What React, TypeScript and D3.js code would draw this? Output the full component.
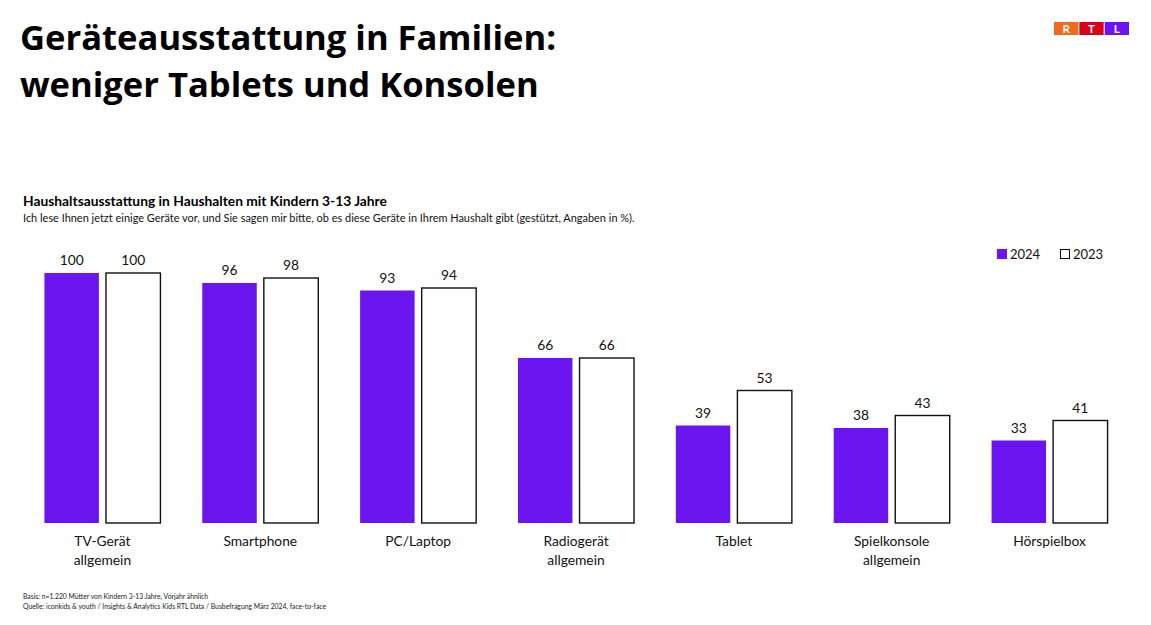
import React, { useEffect, useRef } from 'react';
import * as d3 from 'd3';

const categories = ['TV-Gerät allgemein', 'Smartphone', 'PC/Laptop', 'Radiogerät allgemein', 'Tablet', 'Spielkonsole allgemein', 'Hörspielbox'];
const categoryLines = [['TV-Gerät', 'allgemein'], ['Smartphone'], ['PC/Laptop'], ['Radiogerät', 'allgemein'], ['Tablet'], ['Spielkonsole', 'allgemein'], ['Hörspielbox']];
const seriesNames = ['2024', '2023'];
const values2024 = [100, 96, 93, 66, 39, 38, 33];
const values2023 = [100, 98, 94, 66, 53, 43, 41];

const titleLines = ['Geräteausstattung in Familien:', 'weniger Tablets und Konsolen'];
const subtitle = 'Haushaltsausstattung in Haushalten mit Kindern 3-13 Jahre';
const question = 'Ich lese Ihnen jetzt einige Geräte vor, und Sie sagen mir bitte, ob es diese Geräte in Ihrem Haushalt gibt (gestützt, Angaben in %).';
const notes = ['Basis: n=1.220 Mütter von Kindern 3-13 Jahre, Vorjahr ähnlich', 'Quelle: iconkids & youth / Insights & Analytics Kids RTL Data / Busbefragung März 2024, face-to-face'];

const logoLetters = ['R', 'T', 'L'];
const logoColors = ['#f26a1b', '#d9001b', '#6a14f0'];

const PURPLE = '#6a14f0';
const FONT = 'Lato, sans-serif';

const App: React.FC = () => {
    const chartRef = useRef<SVGSVGElement>(null);

    useEffect(() => {
        const svg = d3.select(chartRef.current);
        svg.selectAll('*').remove();

        svg.append('rect').attr('width', 1151).attr('height', 625).attr('fill', '#fff');

        // headline
        svg.append('g').selectAll('text').data(titleLines).enter().append('text')
            .attr('x', 20)
            .attr('y', (d, i) => 50 + i * 47)
            .attr('font-family', '"Open Sans", sans-serif')
            .attr('font-weight', 700)
            .attr('font-size', 34.6)
            .attr('fill', '#000')
            .text(d => d);

        svg.append('text').attr('x', 23).attr('y', 206)
            .attr('font-family', FONT).attr('font-weight', 700).attr('font-size', 13.8)
            .attr('fill', '#000').text(subtitle);
        svg.append('text').attr('x', 23).attr('y', 222)
            .attr('font-family', FONT).attr('font-size', 10.95)
            .attr('fill', '#111').text(question);

        // bars
        const x0 = d3.scaleBand().domain(categories).range([23.5, 1128.5]).paddingInner(0.265).paddingOuter(0.1325);
        const x1 = d3.scaleBand().domain(seriesNames).range([0, x0.bandwidth()]).paddingInner(0.115);
        const y = d3.scaleLinear().domain([0, 100]).range([523, 273]);

        const rows = categories.map((c, i) => ({ c, i, v: [values2024[i], values2023[i]] }));
        const groups = svg.append('g').selectAll('g').data(rows).enter().append('g')
            .attr('transform', d => `translate(${x0(d.c)},0)`);

        groups.selectAll('rect')
            .data(d => d.v.map((v, k) => ({ v, name: seriesNames[k] })))
            .enter().append('rect')
            .attr('x', d => x1(d.name)!)
            .attr('y', d => y(d.v))
            .attr('width', x1.bandwidth())
            .attr('height', d => y(0) - y(d.v))
            .attr('fill', d => (d.name === '2024' ? PURPLE : '#fff'))
            .attr('stroke', d => (d.name === '2024' ? 'none' : '#111'))
            .attr('stroke-width', 1.4);

        groups.selectAll('text.value')
            .data(d => d.v.map((v, k) => ({ v, name: seriesNames[k] })))
            .enter().append('text')
            .attr('class', 'value')
            .attr('x', d => x1(d.name)! + x1.bandwidth() / 2)
            .attr('y', d => y(d.v) - 8)
            .attr('text-anchor', 'middle')
            .attr('font-family', FONT).attr('font-size', 13.8).attr('fill', '#111')
            .text(d => d.v);

        // category labels
        groups.selectAll('text.cat')
            .data(d => categoryLines[d.i])
            .enter().append('text')
            .attr('class', 'cat')
            .attr('x', x0.bandwidth() / 2)
            .attr('y', (d, i) => 546 + i * 19)
            .attr('text-anchor', 'middle')
            .attr('font-family', FONT).attr('font-size', 13.8).attr('fill', '#111')
            .text(d => d);

        // legend
        const legendX = d3.scalePoint().domain(seriesNames).range([997, 1060]);
        const legend = svg.append('g').selectAll('g').data(seriesNames).enter().append('g')
            .attr('transform', d => `translate(${legendX(d)},249)`);
        legend.append('rect')
            .attr('x', 0.5).attr('y', 0.5).attr('width', 9).attr('height', 9)
            .attr('fill', d => (d === '2024' ? PURPLE : '#fff'))
            .attr('stroke', d => (d === '2024' ? PURPLE : '#111'))
            .attr('stroke-width', 1.1);
        legend.append('text')
            .attr('x', 13).attr('y', 10)
            .attr('font-family', FONT).attr('font-size', 13).attr('fill', '#111')
            .text(d => d);

        // footnotes
        svg.append('g').selectAll('text').data(notes).enter().append('text')
            .attr('x', 23)
            .attr('y', (d, i) => 599 + i * 9.5)
            .attr('font-family', FONT).attr('font-size', 6.8).attr('fill', '#222')
            .text(d => d);

        // logo
        const logoX = d3.scaleBand().domain(logoLetters).range([1054, 1129]).paddingInner(0.04);
        const logo = svg.append('g').selectAll('g').data(logoLetters).enter().append('g');
        logo.append('rect')
            .attr('x', d => logoX(d)!).attr('y', 22).attr('width', logoX.bandwidth()).attr('height', 13)
            .attr('fill', (d, i) => logoColors[i]);
        logo.append('text')
            .attr('x', d => logoX(d)! + logoX.bandwidth() / 2).attr('y', 32.5)
            .attr('text-anchor', 'middle')
            .attr('font-family', FONT).attr('font-weight', 700).attr('font-size', 11.5).attr('fill', '#fff')
            .text(d => d);
    }, []);

    return <svg ref={chartRef} width={1151} height={625} style={{ position: 'absolute', left: 0, top: 0 }}></svg>;
};

export default App;
